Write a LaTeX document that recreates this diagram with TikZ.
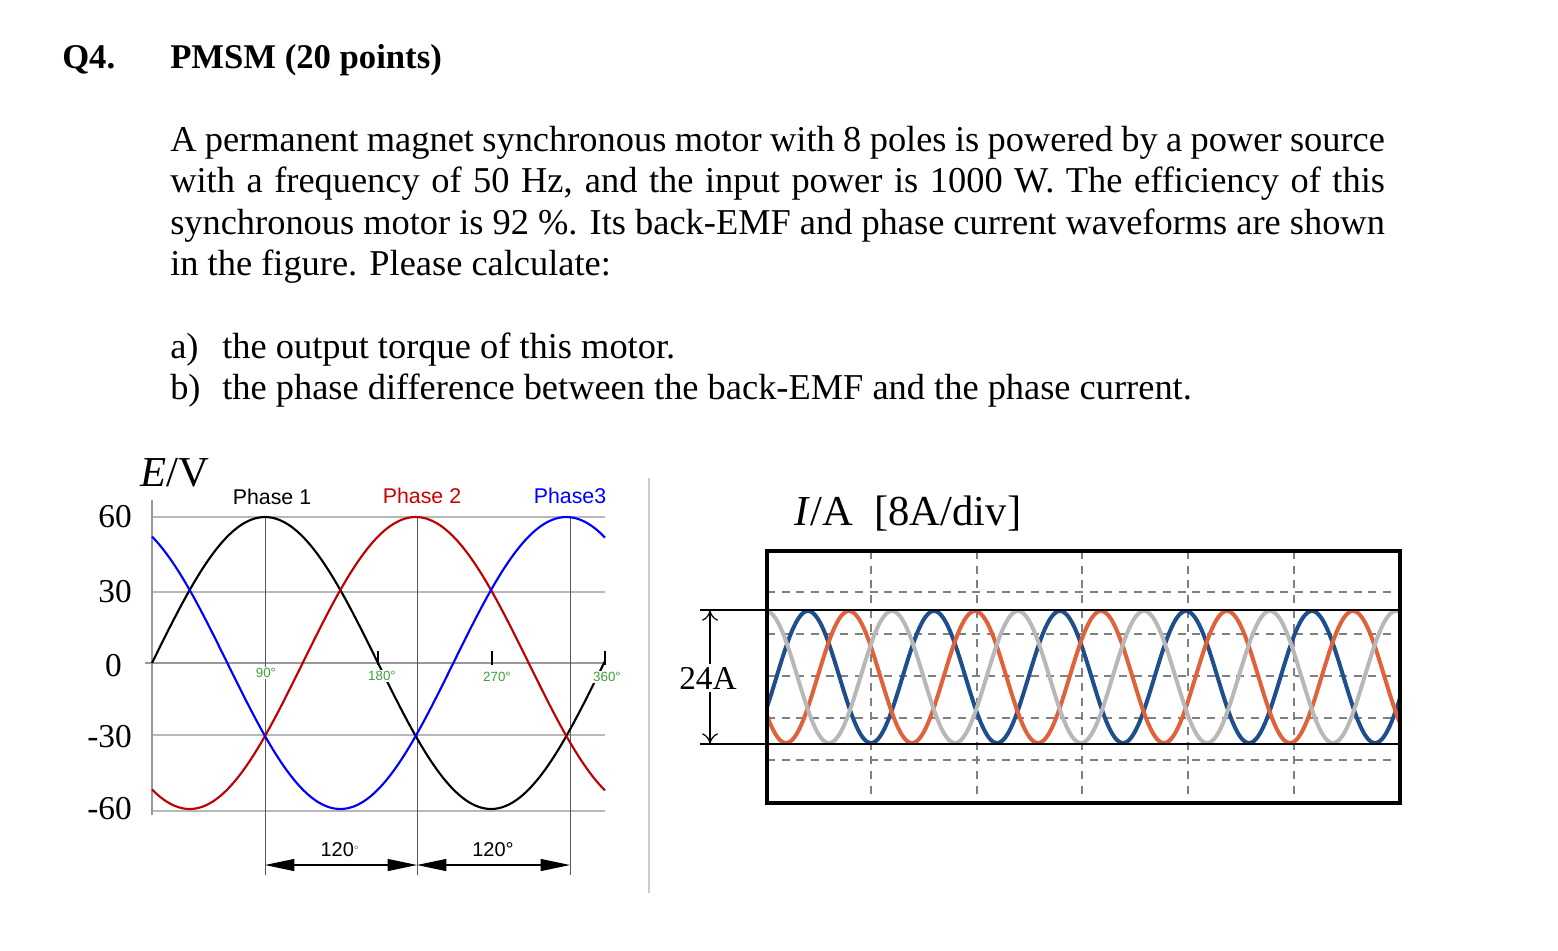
\documentclass[tikz,border=0pt]{standalone}
\usepackage{fontspec}
\setmainfont{Liberation Serif}
\newfontfamily\arialf{Liberation Sans}
\usetikzlibrary{arrows.meta}
\definecolor{cblue}{HTML}{1F4E8C}
\definecolor{corange}{HTML}{E0623A}
\definecolor{cgray}{HTML}{B8B8B8}
\definecolor{gridg}{HTML}{999999}
\definecolor{dgreen}{HTML}{3AA33A}
\begin{document}
\begin{tikzpicture}[x=0.75pt,y=-0.75pt,
  body/.style={inner sep=0pt,font=\fontsize{27.3}{31.1}\selectfont},
  ylab/.style={anchor=east,inner sep=0pt,font=\fontsize{25}{28}\selectfont},
  deg/.style={text=dgreen,font=\arialf\fontsize{10}{11}\selectfont,inner sep=1pt,fill=white},
  phl/.style={font=\arialf\fontsize{16}{18}\selectfont,inner sep=0pt},
  grid/.style={draw=gridg!70,line width=0.8pt},
  cur/.style={line width=3pt,line join=round},
  dgrid/.style={draw=gray,dash pattern=on 6pt off 5pt,line width=1.2pt}]
\useasboundingbox (0,0) rectangle (1558,950);
% header
\node[body,anchor=base west,font=\fontsize{26}{31}\selectfont\bfseries] (q) at (62,68) {Q4.};
\node[body,anchor=base west,font=\fontsize{26}{31}\selectfont\bfseries] (title) at (170,68) {PMSM (20 points)};
\node[body,anchor=north west,text width=911pt,align=justify] (para) at (170,126)
 {A permanent magnet synchronous motor with 8 poles is powered by a power source with a frequency of 50 Hz, and the input power is 1000 W. The efficiency of this synchronous motor is 92 \%. Its back-EMF and phase current waveforms are shown in the figure. Please calculate:};
\node[body,anchor=base west] (a) at (170,358) {a)};
\node[body,anchor=base west] (at) at (222,358) {the output torque of this motor.};
\node[body,anchor=base west] (b) at (170,399) {b)};
\node[body,anchor=base west] (bt) at (222,399) {the phase difference between the back-EMF and the phase current.};
% separator
\draw[gray!40,line width=0.8pt] (649,478) -- (649,893);
% ---------- left plot ----------
\foreach \yy in {517,592,735,811} \draw[grid] (152,\yy) -- (605,\yy);
\draw[draw=gridg,line width=1.6pt] (145,663) -- (605,663);
\draw[draw=gridg,line width=1.6pt] (152,500) -- (152,815);
\foreach \xx in {265,417,570} \draw[draw=gray!70!black,line width=0.7pt] (\xx,517) -- (\xx,875);
\foreach \xx in {378,492,605} \draw[line width=1.2pt] (\xx,651) -- (\xx,665);
\draw[black,line width=1.6pt] plot[domain=152:605,samples=120,smooth] (\x,{663-146*sin((\x-152)/1.2556)});
\draw[red!75!black,line width=1.6pt] plot[domain=152:605,samples=120,smooth] (\x,{663-146*sin((\x-152)/1.2556-120)});
\draw[blue,line width=1.6pt] plot[domain=152:605,samples=120,smooth] (\x,{663-146*sin((\x-152)/1.2556+120)});
\node[deg] (d90) at (266,673) {90°};
\node[deg] (d180) at (382,676) {180°};
\node[deg] (d270) at (497,677) {270°};
\node[deg] (d360) at (607,677) {360°};
\coordinate (m1) at (265,865); \coordinate (m2) at (417,865); \coordinate (m3) at (570,865);
\draw[line width=0.8pt,{Triangle[length=22pt,width=9pt]}-{Triangle[length=22pt,width=9pt]}] (m1) -- (m2);
\draw[line width=0.8pt,{Triangle[length=22pt,width=9pt]}-{Triangle[length=22pt,width=9pt]}] (m2) -- (m3);
\node[font=\arialf\fontsize{15}{17}\selectfont] (l1) at (340,850) {120\textsuperscript{\tiny $\circ$}};
\node[font=\arialf\fontsize{15}{17}\selectfont] (l2) at (493,850) {120°};
\node[ylab] (y60) at (132,517) {60};
\node[ylab] (y30) at (132,592) {30};
\node[ylab] (y0) at (122,666) {0};
\node[ylab] (ym30) at (132,737) {-30};
\node[ylab] (ym60) at (132,809) {-60};
\node[font=\fontsize{32}{36}\selectfont,inner sep=0pt] (ev) at (175,473) {\textit{E}/V};
\node[phl] (p1) at (272,497) {Phase 1};
\node[phl,text=red!80!black] (p2) at (422,496) {Phase 2};
\node[phl,text=blue] (p3) at (570,496) {Phase3};
% ---------- right plot ----------
\node[font=\fontsize{32}{36}\selectfont,inner sep=0pt] (ia) at (908,514) {\textit{I}/A\ \ [8A/div]};
\foreach \yy in {592,634,676,718,760} \draw[dgrid] (767,\yy) -- (1400,\yy);
\foreach \xx in {871,977,1082,1188,1294} \draw[dgrid] (\xx,551) -- (\xx,800);
\begin{scope}
\clip (767,551) rectangle (1400,800);
\draw[cur,cblue] plot[domain=767:1400,samples=300] (\x,{677-66*cos(2.857*(\x-808))});
\draw[cur,corange] plot[domain=767:1400,samples=300] (\x,{677-66*cos(2.857*(\x-849))});
\draw[cur,cgray] plot[domain=767:1400,samples=300] (\x,{677-66*cos(2.857*(\x-892))});
\end{scope}
\draw[line width=1.2pt] (700,610) -- (1400,610);
\draw[line width=1.2pt] (700,744) -- (1400,744);
\coordinate (t24) at (710,610); \coordinate (b24) at (710,744);
\draw[line width=0.9pt,{To[length=8pt,width=12pt]}-{To[length=8pt,width=12pt]}] (t24) -- (b24);
\node[fill=white,inner sep=2pt,font=\fontsize{25}{28}\selectfont] (l24) at (708,678) {24A};
\node[draw,line width=3pt,inner sep=0pt,minimum width=475pt,minimum height=189pt,anchor=north west] (box) at (765,549) {};
\end{tikzpicture}
\end{document}
